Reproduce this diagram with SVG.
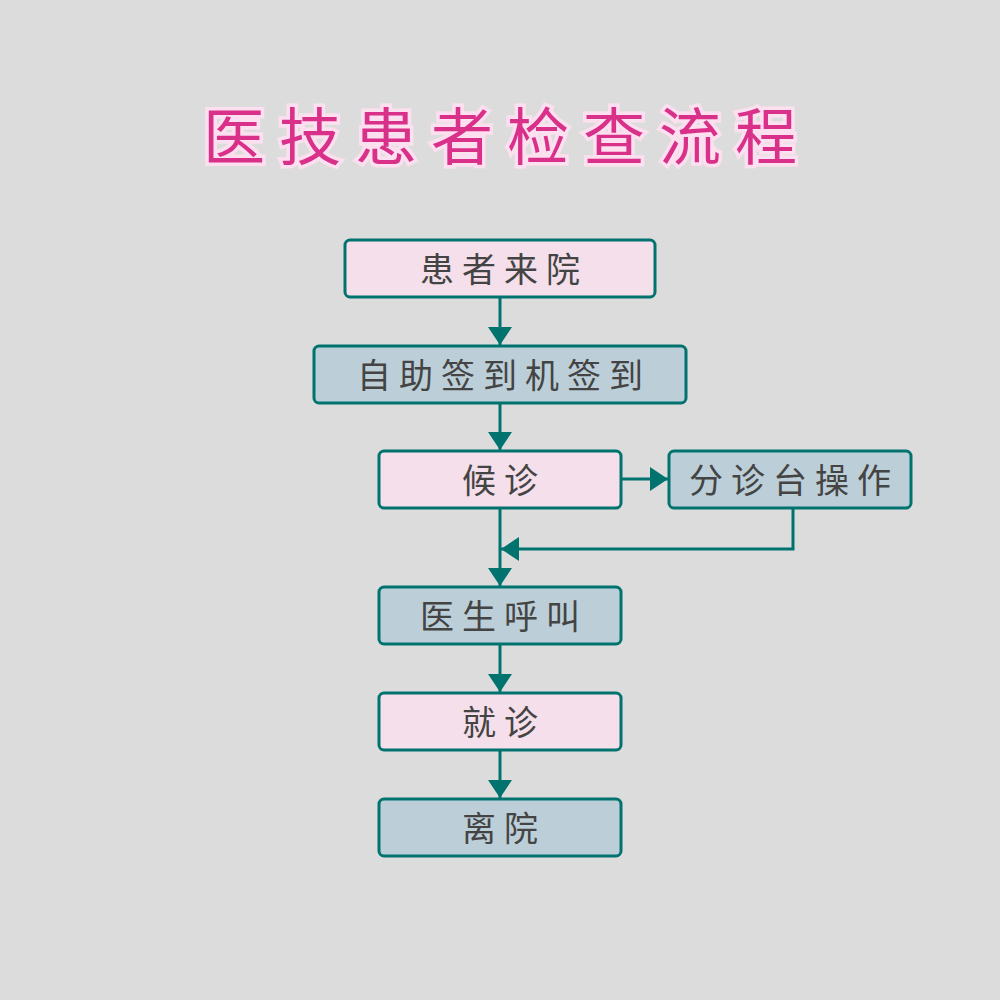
<svg xmlns="http://www.w3.org/2000/svg" width="1000" height="1000" viewBox="0 0 1000 1000">
<style>
.p{fill:#f4dfea}.b{fill:#bccfd8}
.n rect{stroke:#00736e;stroke-width:3}
.n text{font-family:"Noto Sans CJK SC",sans-serif;font-size:34px;fill:#444;text-anchor:middle;letter-spacing:8px}
.c line,.c polyline{stroke:#00736e;stroke-width:3;fill:none}
.t{font-family:"Noto Sans CJK SC",sans-serif;font-size:62px;fill:#d9318a;stroke:#fde0ef;stroke-width:7;paint-order:stroke;text-anchor:middle;letter-spacing:14px}
</style>
<defs><marker id="h" viewBox="0 0 6 8" refX="6" refY="4" markerWidth="6" markerHeight="8" orient="auto"><path d="M0,0L6,4L0,8z" fill="#00736e"/></marker></defs>
<rect width="1000" height="1000" fill="#dcdcdc"/>
<text class="t" x="507" y="160">医技患者检查流程</text>
<g class="c">
<line x1="500" y1="297" x2="500" y2="345" marker-end="url(#h)"/>
<line x1="500" y1="403" x2="500" y2="450" marker-end="url(#h)"/>
<line x1="621" y1="479" x2="668" y2="479" marker-end="url(#h)"/>
<line x1="500" y1="508" x2="500" y2="586" marker-end="url(#h)"/>
<polyline points="793,508 793,549 501,549" marker-end="url(#h)"/>
<line x1="500" y1="644" x2="500" y2="692" marker-end="url(#h)"/>
<line x1="500" y1="750" x2="500" y2="798" marker-end="url(#h)"/>
</g>
<g class="n" id="n1"><rect class="p" x="345" y="240" width="310" height="57" rx="5"/><text x="504" y="282">患者来院</text></g>
<g class="n" id="n2"><rect class="b" x="314" y="346" width="372" height="57" rx="5"/><text x="504" y="388">自助签到机签到</text></g>
<g class="n" id="n3"><rect class="p" x="379" y="451" width="242" height="57" rx="5"/><text x="504" y="493">候诊</text></g>
<g class="n" id="n4"><rect class="b" x="669" y="451" width="242" height="57" rx="5"/><text x="794" y="493">分诊台操作</text></g>
<g class="n" id="n5"><rect class="b" x="379" y="587" width="242" height="57" rx="5"/><text x="504" y="629">医生呼叫</text></g>
<g class="n" id="n6"><rect class="p" x="379" y="693" width="242" height="57" rx="5"/><text x="504" y="735">就诊</text></g>
<g class="n" id="n7"><rect class="b" x="379" y="799" width="242" height="57" rx="5"/><text x="504" y="841">离院</text></g>
</svg>
